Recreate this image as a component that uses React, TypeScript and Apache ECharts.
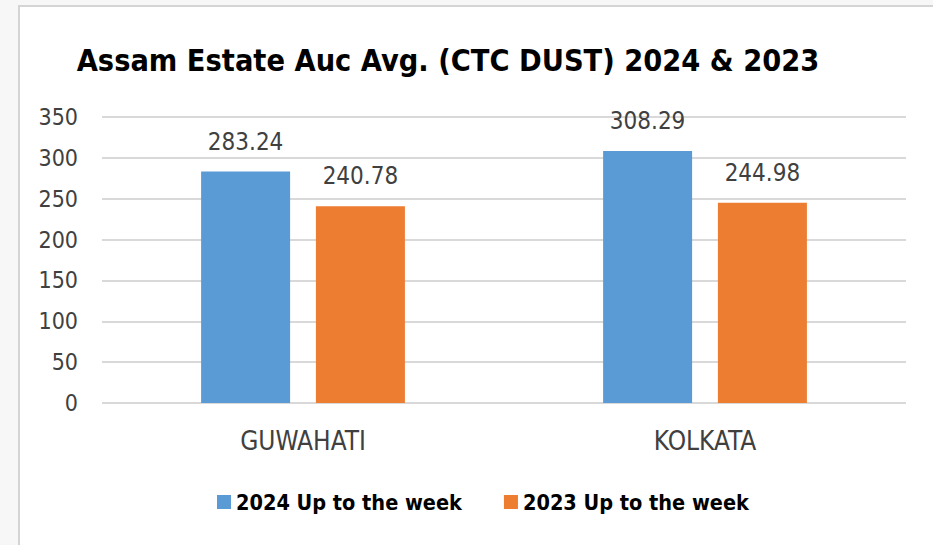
import React, { useEffect, useRef } from "react";
import * as echarts from "echarts";

const categories = ["GUWAHATI", "KOLKATA"];
const series2024 = [283.24, 308.29];
const series2023 = [240.78, 244.98];
const seriesNames = ["2024 Up to the week", "2023 Up to the week"];
const titleText = "Assam Estate Auc Avg. (CTC DUST) 2024 & 2023";

const FONT = "'Liberation Sans Narrow', 'DejaVu Sans Condensed', 'Open Sans', sans-serif";

export default function App() {
  const ref = useRef<HTMLDivElement>(null);
  useEffect(() => {
    if (!ref.current) return;
    const chart = echarts.init(ref.current, null, { renderer: "svg" });
    chart.setOption({
      animation: false,
      backgroundColor: "transparent",
      textStyle: { fontFamily: FONT },
      title: {
        text: titleText,
        left: 443,
        textAlign: "center",
        top: 40,
        textStyle: { fontFamily: FONT, fontSize: 30.4, fontWeight: "bold", color: "#000" },
      },
      legend: {
        bottom: 27,
        left: 212,
        itemWidth: 14,
        itemHeight: 14,
        itemGap: 42,
        icon: "rect",
        textStyle: { fontFamily: FONT, fontSize: 21.5, fontWeight: "bold", color: "#000" },
        data: seriesNames,
      },
      grid: { left: 102, right: 27, top: 117, bottom: 142, containLabel: false },
      xAxis: {
        type: "category",
        data: categories,
        axisLine: { show: false },
        axisTick: { show: false },
        axisLabel: { fontFamily: FONT, fontSize: 26, color: "#404040", margin: 25 },
      },
      yAxis: {
        type: "value",
        min: 0,
        max: 350,
        interval: 50,
        axisLine: { show: false },
        axisTick: { show: false },
        axisLabel: { fontFamily: FONT, fontSize: 23, color: "#404040", margin: 24 },
        splitLine: { lineStyle: { color: "#d9d9d9", width: 2 } },
      },
      series: [
        {
          name: seriesNames[0],
          type: "bar",
          data: series2024,
          barWidth: 89,
          barGap: "29%",
          itemStyle: { color: "#5B9BD5" },
          label: {
            show: true,
            position: "top",
            distance: 18,
            fontFamily: FONT,
            fontSize: 24,
            color: "#404040",
            formatter: (p: any) => p.value.toFixed(2),
          },
        },
        {
          name: seriesNames[1],
          type: "bar",
          data: series2023,
          barWidth: 89,
          itemStyle: { color: "#ED7D31" },
          label: {
            show: true,
            position: "top",
            distance: 18,
            fontFamily: FONT,
            fontSize: 24,
            color: "#404040",
            formatter: (p: any) => p.value.toFixed(2),
          },
        },
      ],
    });
    return () => chart.dispose();
  }, []);

  return (
    <div style={{ position: "fixed", left: 0, top: 0, width: 933, height: 545, background: "#f7f7f7", overflow: "hidden" }}>
      <div
        style={{
          position: "absolute",
          left: 18,
          top: 5,
          width: 940,
          height: 560,
          borderLeft: "2px solid #d4d4d4",
          borderTop: "2px solid #d4d4d4",
          background: "#ffffff",
        }}
      />
      <div ref={ref} style={{ position: "absolute", left: 0, top: 0, width: 933, height: 545 }} />
    </div>
  );
}
